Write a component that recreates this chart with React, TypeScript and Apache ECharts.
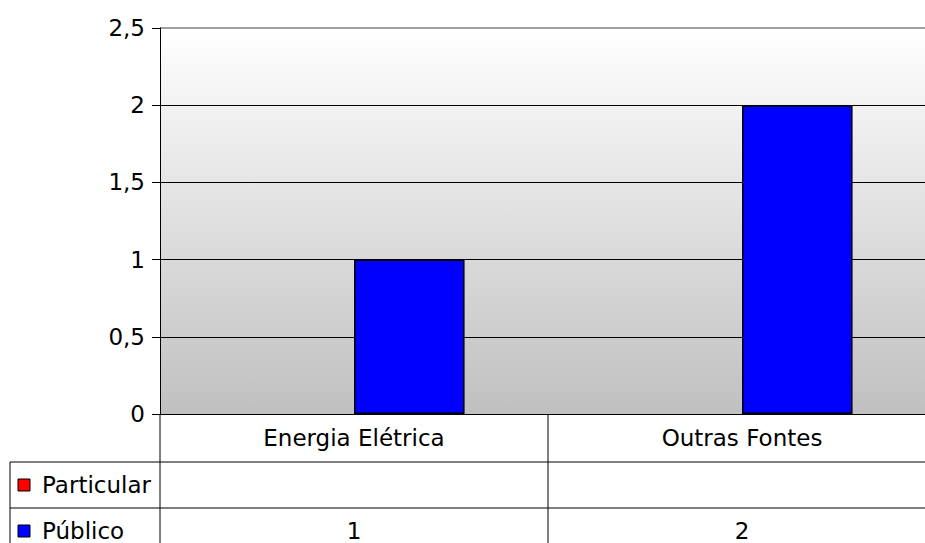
import React, { useEffect, useRef } from "react";
import * as echarts from "echarts";

const categories = ["Energia Elétrica", "Outras Fontes"];
const seriesNames = ["Particular", "Público"];
const particularValues: (number | null)[] = [null, null];
const publicoValues: (number | null)[] = [1, 2];
const seriesColors = ["#ff0000", "#0000ff"];
const yTicks = { min: 0, max: 2.5, interval: 0.5 };

const FONT = "DejaVu Sans";
const FS = 23;

export default function App() {
  const ref = useRef<HTMLDivElement>(null);
  useEffect(() => {
    if (!ref.current) return;
    const chart = echarts.init(ref.current, undefined, { renderer: "svg" });
    const gridLeft = 160;
    const gridTop = 28;
    const gridW = 776;
    const gridH = 386;
    const allValues = [particularValues, publicoValues];
    chart.setOption({
      animation: false,
      grid: {
        left: gridLeft,
        top: gridTop,
        width: gridW,
        height: gridH,
        show: true,
        borderWidth: 0,
        backgroundColor: new echarts.graphic.LinearGradient(0, 0, 0, 1, [
          { offset: 0, color: "#ffffff" },
          { offset: 1, color: "#c0c0c0" },
        ]),
      },
      xAxis: {
        type: "category",
        data: categories,
        axisLine: { show: true, lineStyle: { color: "#000", width: 1 } },
        axisTick: { show: false },
        axisLabel: { color: "#000", fontFamily: FONT, fontSize: FS, margin: 12 },
        splitLine: { show: false },
      },
      yAxis: {
        type: "value",
        min: yTicks.min,
        max: yTicks.max,
        interval: yTicks.interval,
        axisLine: { show: true, lineStyle: { color: "#000", width: 1 } },
        axisTick: { show: true, length: 8, lineStyle: { color: "#000" } },
        axisLabel: {
          color: "#000",
          fontFamily: FONT,
          fontSize: FS,
          margin: 15,
          formatter: (v: number) => String(v).replace(".", ","),
        },
        splitLine: { show: true, showMaxLine: false, lineStyle: { color: "#000", width: 1 } },
      },
      series: [
        {
          name: seriesNames[0],
          type: "bar",
          data: particularValues,
          barGap: "0%",
          barCategoryGap: "43%",
          itemStyle: { color: seriesColors[0], borderColor: "#000", borderWidth: 1.5 },
        },
        {
          name: seriesNames[1],
          type: "bar",
          data: publicoValues,
          barGap: "0%",
          barCategoryGap: "43%",
          itemStyle: { color: seriesColors[1], borderColor: "#000", borderWidth: 1.5 },
        },
      ],
    });

    const x0 = chart.convertToPixel({ xAxisIndex: 0 }, 0) as number;
    const x1 = chart.convertToPixel({ xAxisIndex: 0 }, 1) as number;
    const catW = x1 - x0;
    const yTop = chart.convertToPixel({ yAxisIndex: 0 }, yTicks.max) as number;
    const yZero = chart.convertToPixel({ yAxisIndex: 0 }, 0) as number;
    const row1 = yZero + 48;
    const row2 = row1 + 46;
    const row3 = row2 + 46;
    const rightX = 940;
    const leftX = 10;
    const lineStyle = { stroke: "#000", lineWidth: 1 };
    const els: any[] = [];
    els.push({ type: "line", shape: { x1: gridLeft, y1: yTop, x2: rightX, y2: yTop }, style: { stroke: "#a0a0a0", lineWidth: 2 } });
    els.push({ type: "line", shape: { x1: leftX, y1: row1, x2: rightX, y2: row1 }, style: lineStyle });
    els.push({ type: "line", shape: { x1: leftX, y1: row2, x2: rightX, y2: row2 }, style: lineStyle });
    els.push({ type: "line", shape: { x1: gridLeft, y1: yZero, x2: gridLeft, y2: 560 }, style: lineStyle });
    els.push({ type: "line", shape: { x1: leftX, y1: row1, x2: leftX, y2: 560 }, style: lineStyle });
    for (let i = 1; i < categories.length; i++) {
      const bx = x0 - catW / 2 + i * catW;
      els.push({ type: "line", shape: { x1: bx, y1: yZero, x2: bx, y2: 560 }, style: lineStyle });
    }
    const rowTops = [row1, row2];
    seriesNames.forEach((name, s) => {
      const cy = (rowTops[s] + (s === 0 ? row2 : row3)) / 2;
      els.push({
        type: "rect",
        shape: { x: 18, y: cy - 6, width: 12, height: 12 },
        style: { fill: seriesColors[s], stroke: "#000", lineWidth: 1 },
      });
      els.push({
        type: "text",
        x: 42,
        y: cy,
        style: { text: name, fontFamily: FONT, fontSize: FS, fill: "#000", verticalAlign: "middle", align: "left" },
      });
      allValues[s].forEach((v, i) => {
        if (v === null || v === undefined) return;
        const cx = chart.convertToPixel({ xAxisIndex: 0 }, i) as number;
        els.push({
          type: "text",
          x: cx,
          y: cy,
          style: { text: String(v).replace(".", ","), fontFamily: FONT, fontSize: FS, fill: "#000", verticalAlign: "middle", align: "center" },
        });
      });
    });
    chart.setOption({ graphic: { elements: els } });
    return () => chart.dispose();
  }, []);
  return (
    <div style={{ position: "fixed", left: 0, top: 0, width: 925, height: 543, overflow: "hidden", background: "#fff" }}>
      <div ref={ref} style={{ width: 940, height: 543 }} />
    </div>
  );
}
